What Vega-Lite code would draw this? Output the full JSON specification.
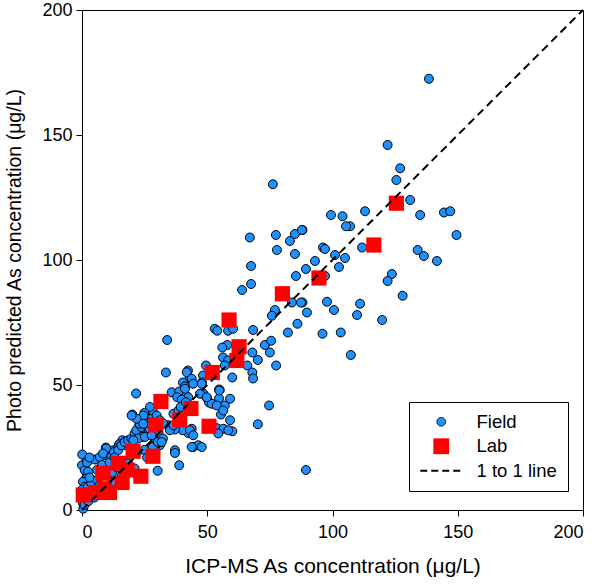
{
  "$schema": "https://vega.github.io/schema/vega-lite/v6.json",
  "width": 501,
  "height": 500,
  "autosize": "none",
  "padding": {"left": 82, "top": 10, "right": 17, "bottom": 77},
  "background": "white",
  "config": {
    "font": "Liberation Sans",
    "view": {"stroke": "black", "strokeWidth": 1},
    "axis": {
      "grid": false,
      "domainColor": "black",
      "tickColor": "black",
      "tickSize": 6,
      "labelColor": "black",
      "titleColor": "black",
      "labelFontSize": 18,
      "titleFontWeight": "normal",
      "labelFont": "Liberation Sans",
      "titleFont": "Liberation Sans"
    }
  },
  "layer": [
    {
      "data": {"values": [
        {"x":138.5,"y":172.5,"t":"Field"},{"x":122,"y":146,"t":"Field"},{"x":127,"y":136.7,"t":"Field"},{"x":125.5,"y":132,"t":"Field"},
        {"x":131,"y":124,"t":"Field"},{"x":113,"y":119.5,"t":"Field"},{"x":135,"y":118,"t":"Field"},{"x":144.5,"y":119,"t":"Field"},
        {"x":147,"y":119.5,"t":"Field"},{"x":149.5,"y":110,"t":"Field"},{"x":107,"y":113.5,"t":"Field"},{"x":111.8,"y":105,"t":"Field"},
        {"x":134,"y":104,"t":"Field"},{"x":136.5,"y":101.6,"t":"Field"},{"x":141.7,"y":99.6,"t":"Field"},{"x":123.7,"y":94.4,"t":"Field"},
        {"x":122,"y":91.6,"t":"Field"},{"x":128,"y":85.7,"t":"Field"},{"x":111,"y":82.5,"t":"Field"},{"x":109.8,"y":78,"t":"Field"},
        {"x":119.8,"y":76,"t":"Field"},{"x":88,"y":112,"t":"Field"},{"x":99.4,"y":118,"t":"Field"},{"x":104,"y":117.5,"t":"Field"},
        {"x":105.4,"y":113.5,"t":"Field"},{"x":96.2,"y":105,"t":"Field"},{"x":97,"y":104.4,"t":"Field"},{"x":101,"y":102,"t":"Field"},
        {"x":105,"y":100.8,"t":"Field"},{"x":93,"y":99.6,"t":"Field"},{"x":89.4,"y":96.4,"t":"Field"},{"x":102.6,"y":97.2,"t":"Field"},
        {"x":97,"y":93.6,"t":"Field"},{"x":88,"y":83,"t":"Field"},{"x":97.8,"y":83.3,"t":"Field"},{"x":100.6,"y":80,"t":"Field"},
        {"x":89.8,"y":79,"t":"Field"},{"x":96,"y":70.5,"t":"Field"},{"x":103.3,"y":71,"t":"Field"},{"x":107.3,"y":62,"t":"Field"},
        {"x":86,"y":74.5,"t":"Field"},{"x":82.2,"y":71,"t":"Field"},{"x":85.4,"y":93.6,"t":"Field"},{"x":83.8,"y":83,"t":"Field"},
        {"x":87.4,"y":83,"t":"Field"},{"x":89.4,"y":16,"t":"Field"},{"x":76.2,"y":130.3,"t":"Field"},{"x":67,"y":109,"t":"Field"},
        {"x":77.4,"y":110,"t":"Field"},{"x":83,"y":107.6,"t":"Field"},{"x":85,"y":110.4,"t":"Field"},{"x":87.8,"y":112,"t":"Field"},
        {"x":77.8,"y":104,"t":"Field"},{"x":85,"y":102.4,"t":"Field"},{"x":67.5,"y":97.6,"t":"Field"},{"x":67.5,"y":90.4,"t":"Field"},
        {"x":63.9,"y":88,"t":"Field"},{"x":77,"y":80,"t":"Field"},{"x":75.8,"y":77.7,"t":"Field"},{"x":53,"y":72.5,"t":"Field"},
        {"x":54,"y":71.7,"t":"Field"},{"x":58.3,"y":71.7,"t":"Field"},{"x":60.3,"y":72.5,"t":"Field"},{"x":68.3,"y":72,"t":"Field"},
        {"x":58,"y":66,"t":"Field"},{"x":73,"y":66,"t":"Field"},{"x":75.5,"y":67.7,"t":"Field"},{"x":75,"y":63,"t":"Field"},
        {"x":68,"y":63,"t":"Field"},{"x":70.2,"y":60,"t":"Field"},{"x":77.5,"y":57.8,"t":"Field"},{"x":56.3,"y":61,"t":"Field"},
        {"x":58.3,"y":59.8,"t":"Field"},{"x":57,"y":57.8,"t":"Field"},{"x":66,"y":57.8,"t":"Field"},{"x":68,"y":55,"t":"Field"},
        {"x":68.3,"y":52.6,"t":"Field"},{"x":49.5,"y":57.8,"t":"Field"},{"x":48.3,"y":53.8,"t":"Field"},{"x":47.9,"y":51,"t":"Field"},
        {"x":60,"y":53,"t":"Field"},{"x":55,"y":48,"t":"Field"},{"x":48.3,"y":46.6,"t":"Field"},{"x":50,"y":44.6,"t":"Field"},
        {"x":50.7,"y":43,"t":"Field"},{"x":54.7,"y":48.2,"t":"Field"},{"x":54.7,"y":44.6,"t":"Field"},{"x":57,"y":41.8,"t":"Field"},
        {"x":55.5,"y":38.2,"t":"Field"},{"x":74.7,"y":41.8,"t":"Field"},{"x":70.2,"y":34.3,"t":"Field"},{"x":60,"y":31.5,"t":"Field"},
        {"x":53.9,"y":32.7,"t":"Field"},{"x":56,"y":65,"t":"Field"},{"x":34,"y":68,"t":"Field"},{"x":33.5,"y":55,"t":"Field"},
        {"x":21.6,"y":46.6,"t":"Field"},{"x":42.3,"y":55.8,"t":"Field"},{"x":43,"y":52.6,"t":"Field"},{"x":40.3,"y":51,"t":"Field"},
        {"x":41.1,"y":49.4,"t":"Field"},{"x":40.4,"y":47.1,"t":"Field"},{"x":41.5,"y":45.8,"t":"Field"},{"x":42.4,"y":45.1,"t":"Field"},
        {"x":35.8,"y":47.1,"t":"Field"},{"x":38.8,"y":47.4,"t":"Field"},{"x":38,"y":45.1,"t":"Field"},{"x":39.8,"y":44.1,"t":"Field"},
        {"x":48.4,"y":46.5,"t":"Field"},{"x":51.8,"y":42.5,"t":"Field"},{"x":43.8,"y":32.5,"t":"Field"},{"x":42.4,"y":30.8,"t":"Field"},
        {"x":40.2,"y":31.9,"t":"Field"},{"x":36.5,"y":38.5,"t":"Field"},{"x":38.5,"y":39.8,"t":"Field"},{"x":39.4,"y":41.2,"t":"Field"},
        {"x":41.5,"y":43.1,"t":"Field"},{"x":37.1,"y":32.2,"t":"Field"},{"x":34.5,"y":33.9,"t":"Field"},{"x":44.4,"y":25.2,"t":"Field"},
        {"x":46.4,"y":25.9,"t":"Field"},{"x":37.1,"y":23.9,"t":"Field"},{"x":25.8,"y":38.5,"t":"Field"},{"x":27.8,"y":36.5,"t":"Field"},
        {"x":28.2,"y":39.8,"t":"Field"},{"x":27.1,"y":41.2,"t":"Field"},{"x":25.1,"y":35.9,"t":"Field"},{"x":28.5,"y":30.6,"t":"Field"},
        {"x":31.1,"y":25.9,"t":"Field"},{"x":20.1,"y":38.2,"t":"Field"},{"x":24.9,"y":38.8,"t":"Field"},{"x":25.8,"y":34.8,"t":"Field"},
        {"x":24.5,"y":32.5,"t":"Field"},{"x":22.8,"y":33.5,"t":"Field"},{"x":23.2,"y":31.2,"t":"Field"},{"x":23.8,"y":29.2,"t":"Field"},
        {"x":16.1,"y":27.9,"t":"Field"},{"x":14.8,"y":26.3,"t":"Field"},{"x":16.9,"y":25.9,"t":"Field"},{"x":13.9,"y":24.6,"t":"Field"},
        {"x":12.5,"y":23.9,"t":"Field"},{"x":10.5,"y":23.2,"t":"Field"},{"x":9.5,"y":25,"t":"Field"},{"x":5.2,"y":20.2,"t":"Field"},
        {"x":9.2,"y":21.9,"t":"Field"},{"x":0.1,"y":22.2,"t":"Field"},{"x":37.1,"y":22.8,"t":"Field"},{"x":38.8,"y":17.9,"t":"Field"},
        {"x":30.2,"y":15.7,"t":"Field"},{"x":29.1,"y":31.6,"t":"Field"},{"x":30.5,"y":30.6,"t":"Field"},{"x":29.1,"y":27.9,"t":"Field"},
        {"x":29.8,"y":26.3,"t":"Field"},{"x":28.9,"y":24.6,"t":"Field"},{"x":29.8,"y":37.8,"t":"Field"},{"x":31.1,"y":35.9,"t":"Field"},
        {"x":0,"y":17.9,"t":"Field"},{"x":1.1,"y":15.9,"t":"Field"},{"x":2.4,"y":15.3,"t":"Field"},{"x":1.7,"y":12.6,"t":"Field"},
        {"x":0.4,"y":11.3,"t":"Field"},{"x":1.1,"y":9.3,"t":"Field"},{"x":0,"y":8,"t":"Field"},{"x":0.4,"y":2.7,"t":"Field"},
        {"x":2.4,"y":9.3,"t":"Field"},{"x":3.7,"y":10.6,"t":"Field"},{"x":7.1,"y":21.2,"t":"Field"},{"x":9.7,"y":24.6,"t":"Field"},
        {"x":8.4,"y":22.6,"t":"Field"},{"x":11.7,"y":21.2,"t":"Field"},{"x":12.8,"y":23.2,"t":"Field"},{"x":14.4,"y":23.9,"t":"Field"},
        {"x":15.7,"y":25.9,"t":"Field"},{"x":17,"y":27.2,"t":"Field"},{"x":18.4,"y":27.9,"t":"Field"},{"x":19.7,"y":28.6,"t":"Field"},
        {"x":21,"y":30.6,"t":"Field"},{"x":21.7,"y":31.9,"t":"Field"},{"x":23.7,"y":33.2,"t":"Field"},{"x":23,"y":34.5,"t":"Field"},
        {"x":25.7,"y":33.9,"t":"Field"},{"x":27,"y":32.5,"t":"Field"},{"x":22.4,"y":28.6,"t":"Field"},{"x":16.4,"y":19.2,"t":"Field"},
        {"x":18.4,"y":18.6,"t":"Field"},{"x":19.7,"y":15.9,"t":"Field"},{"x":21,"y":16.6,"t":"Field"},{"x":28.3,"y":25.2,"t":"Field"},
        {"x":30.3,"y":27.2,"t":"Field"},{"x":32.3,"y":28.6,"t":"Field"},{"x":41.8,"y":55.1,"t":"Field"},{"x":43.8,"y":52.5,"t":"Field"},
        {"x":41.1,"y":48.5,"t":"Field"},{"x":44.4,"y":50.5,"t":"Field"},{"x":47.8,"y":50.5,"t":"Field"},{"x":47.1,"y":46.5,"t":"Field"},
        {"x":49.8,"y":45.1,"t":"Field"},{"x":54.8,"y":47.8,"t":"Field"},{"x":53.8,"y":41.8,"t":"Field"},{"x":56.4,"y":39.8,"t":"Field"},
        {"x":59.1,"y":44.5,"t":"Field"},{"x":59.1,"y":35.9,"t":"Field"},{"x":56.4,"y":32.5,"t":"Field"},{"x":54.4,"y":30.6,"t":"Field"},
        {"x":58.4,"y":31.9,"t":"Field"},{"x":43.1,"y":31.9,"t":"Field"},{"x":44.4,"y":29.9,"t":"Field"},{"x":47.8,"y":25.2,"t":"Field"},
        {"x":43.8,"y":25.2,"t":"Field"},{"x":35.1,"y":31.9,"t":"Field"},{"x":36.5,"y":33.9,"t":"Field"},{"x":32.5,"y":34.5,"t":"Field"},
        {"x":27.1,"y":34.5,"t":"Field"},{"x":24.5,"y":37.8,"t":"Field"},{"x":21.8,"y":36.5,"t":"Field"},{"x":24.5,"y":34.5,"t":"Field"},
        {"x":25.1,"y":29.2,"t":"Field"},{"x":27.8,"y":29.9,"t":"Field"},{"x":31.8,"y":27.2,"t":"Field"},{"x":20.5,"y":27.9,"t":"Field"},
        {"x":19.8,"y":37.8,"t":"Field"},{"x":0.5,"y":0.5,"t":"Field"},{"x":1,"y":2,"t":"Field"},{"x":2.5,"y":3.5,"t":"Field"},
        {"x":4,"y":8,"t":"Field"},{"x":6,"y":12,"t":"Field"},{"x":7,"y":10,"t":"Field"},{"x":10,"y":14,"t":"Field"},
        {"x":12,"y":15,"t":"Field"},{"x":14,"y":17,"t":"Field"},{"x":6,"y":16,"t":"Field"},{"x":3,"y":13,"t":"Field"},
        {"x":8,"y":18,"t":"Field"},{"x":11,"y":19,"t":"Field"},{"x":13,"y":21,"t":"Field"},{"x":2,"y":19,"t":"Field"},
        {"x":3,"y":21,"t":"Field"},{"x":5,"y":5,"t":"Field"},{"x":12,"y":11,"t":"Field"},{"x":16,"y":14,"t":"Field"},
        {"x":22,"y":23,"t":"Field"},{"x":25,"y":24,"t":"Field"},{"x":26,"y":21,"t":"Field"}
      ]},
      "mark": {"type": "point", "filled": true, "opacity": 1, "size": 80, "stroke": "black", "strokeWidth": 1},
      "encoding": {
        "x": {"field": "x", "type": "quantitative", "scale": {"domain": [0, 200], "nice": false},
              "axis": {"values": [0, 50, 100, 150, 200], "title": "ICP-MS As concentration (μg/L)", "titleFontSize": 21, "labelPadding": 7, "titlePadding": 14}},
        "y": {"field": "y", "type": "quantitative", "scale": {"domain": [0, 200], "nice": false},
              "axis": {"values": [0, 50, 100, 150, 200], "title": "Photo predicted As concentration (μg/L)", "titleFontSize": 19.5, "labelPadding": 4, "titlePadding": 17}},
        "color": {"field": "t", "type": "nominal",
                  "scale": {"domain": ["Field", "Lab", "1 to 1 line"], "range": ["#1E90FF", "#FF0000", "#000000"]},
                  "legend": {
                    "title": null, "orient": "none", "legendX": 327, "legendY": 392,
                    "strokeColor": "black", "fillColor": "white", "padding": 10.5,
                    "labelFontSize": 18.5, "labelColor": "black", "labelOffset": 26,
                    "symbolOffset": 12.5,
                    "rowPadding": 5.5,
                    "symbolSize": {"expr": "datum.value === 'Field' ? 75 : datum.value === 'Lab' ? 250 : 1764"},
                    "symbolDash": {"expr": "datum.value === '1 to 1 line' ? [7,4] : [1,0]"},
                    "symbolStrokeWidth": {"expr": "datum.value === '1 to 1 line' ? 2 : datum.value === 'Lab' ? 0 : 1"}
                  }},
        "shape": {"field": "t", "type": "nominal",
                  "scale": {"domain": ["Field", "Lab", "1 to 1 line"], "range": ["circle", "square", "stroke"]}}
      }
    },
    {
      "data": {"values": [
        {"x":0.5,"y":6,"t":"Lab"},{"x":5.5,"y":7,"t":"Lab"},{"x":9,"y":8.5,"t":"Lab"},{"x":11,"y":7,"t":"Lab"},
        {"x":8.4,"y":14.7,"t":"Lab"},{"x":14.5,"y":18.7,"t":"Lab"},{"x":18,"y":16,"t":"Lab"},{"x":16,"y":11,"t":"Lab"},
        {"x":20.4,"y":23.5,"t":"Lab"},{"x":23.5,"y":13.5,"t":"Lab"},{"x":28.3,"y":21.5,"t":"Lab"},{"x":29.5,"y":34,"t":"Lab"},
        {"x":31.5,"y":43.4,"t":"Lab"},{"x":39,"y":36,"t":"Lab"},{"x":43.5,"y":40.6,"t":"Lab"},{"x":50.7,"y":33.5,"t":"Lab"},
        {"x":52,"y":55,"t":"Lab"},{"x":58.7,"y":76,"t":"Lab"},{"x":62.7,"y":65.3,"t":"Lab"},{"x":61.8,"y":59.8,"t":"Lab"},
        {"x":80,"y":86.5,"t":"Lab"},{"x":94.6,"y":92.8,"t":"Lab"},{"x":116.5,"y":106,"t":"Lab"},{"x":125.5,"y":122.7,"t":"Lab"}
      ]},
      "mark": {"type": "point", "filled": true, "opacity": 1, "size": 230, "strokeWidth": 0},
      "encoding": {
        "x": {"field": "x", "type": "quantitative"},
        "y": {"field": "y", "type": "quantitative"},
        "color": {"field": "t", "type": "nominal"},
        "shape": {"field": "t", "type": "nominal"}
      }
    },
    {
      "data": {"values": [{"x": 0, "y": 0}, {"x": 200, "y": 200}]},
      "mark": {"type": "line", "color": "black", "strokeWidth": 2, "strokeDash": [8, 5]},
      "encoding": {
        "x": {"field": "x", "type": "quantitative"},
        "y": {"field": "y", "type": "quantitative"}
      }
    }
  ]
}
